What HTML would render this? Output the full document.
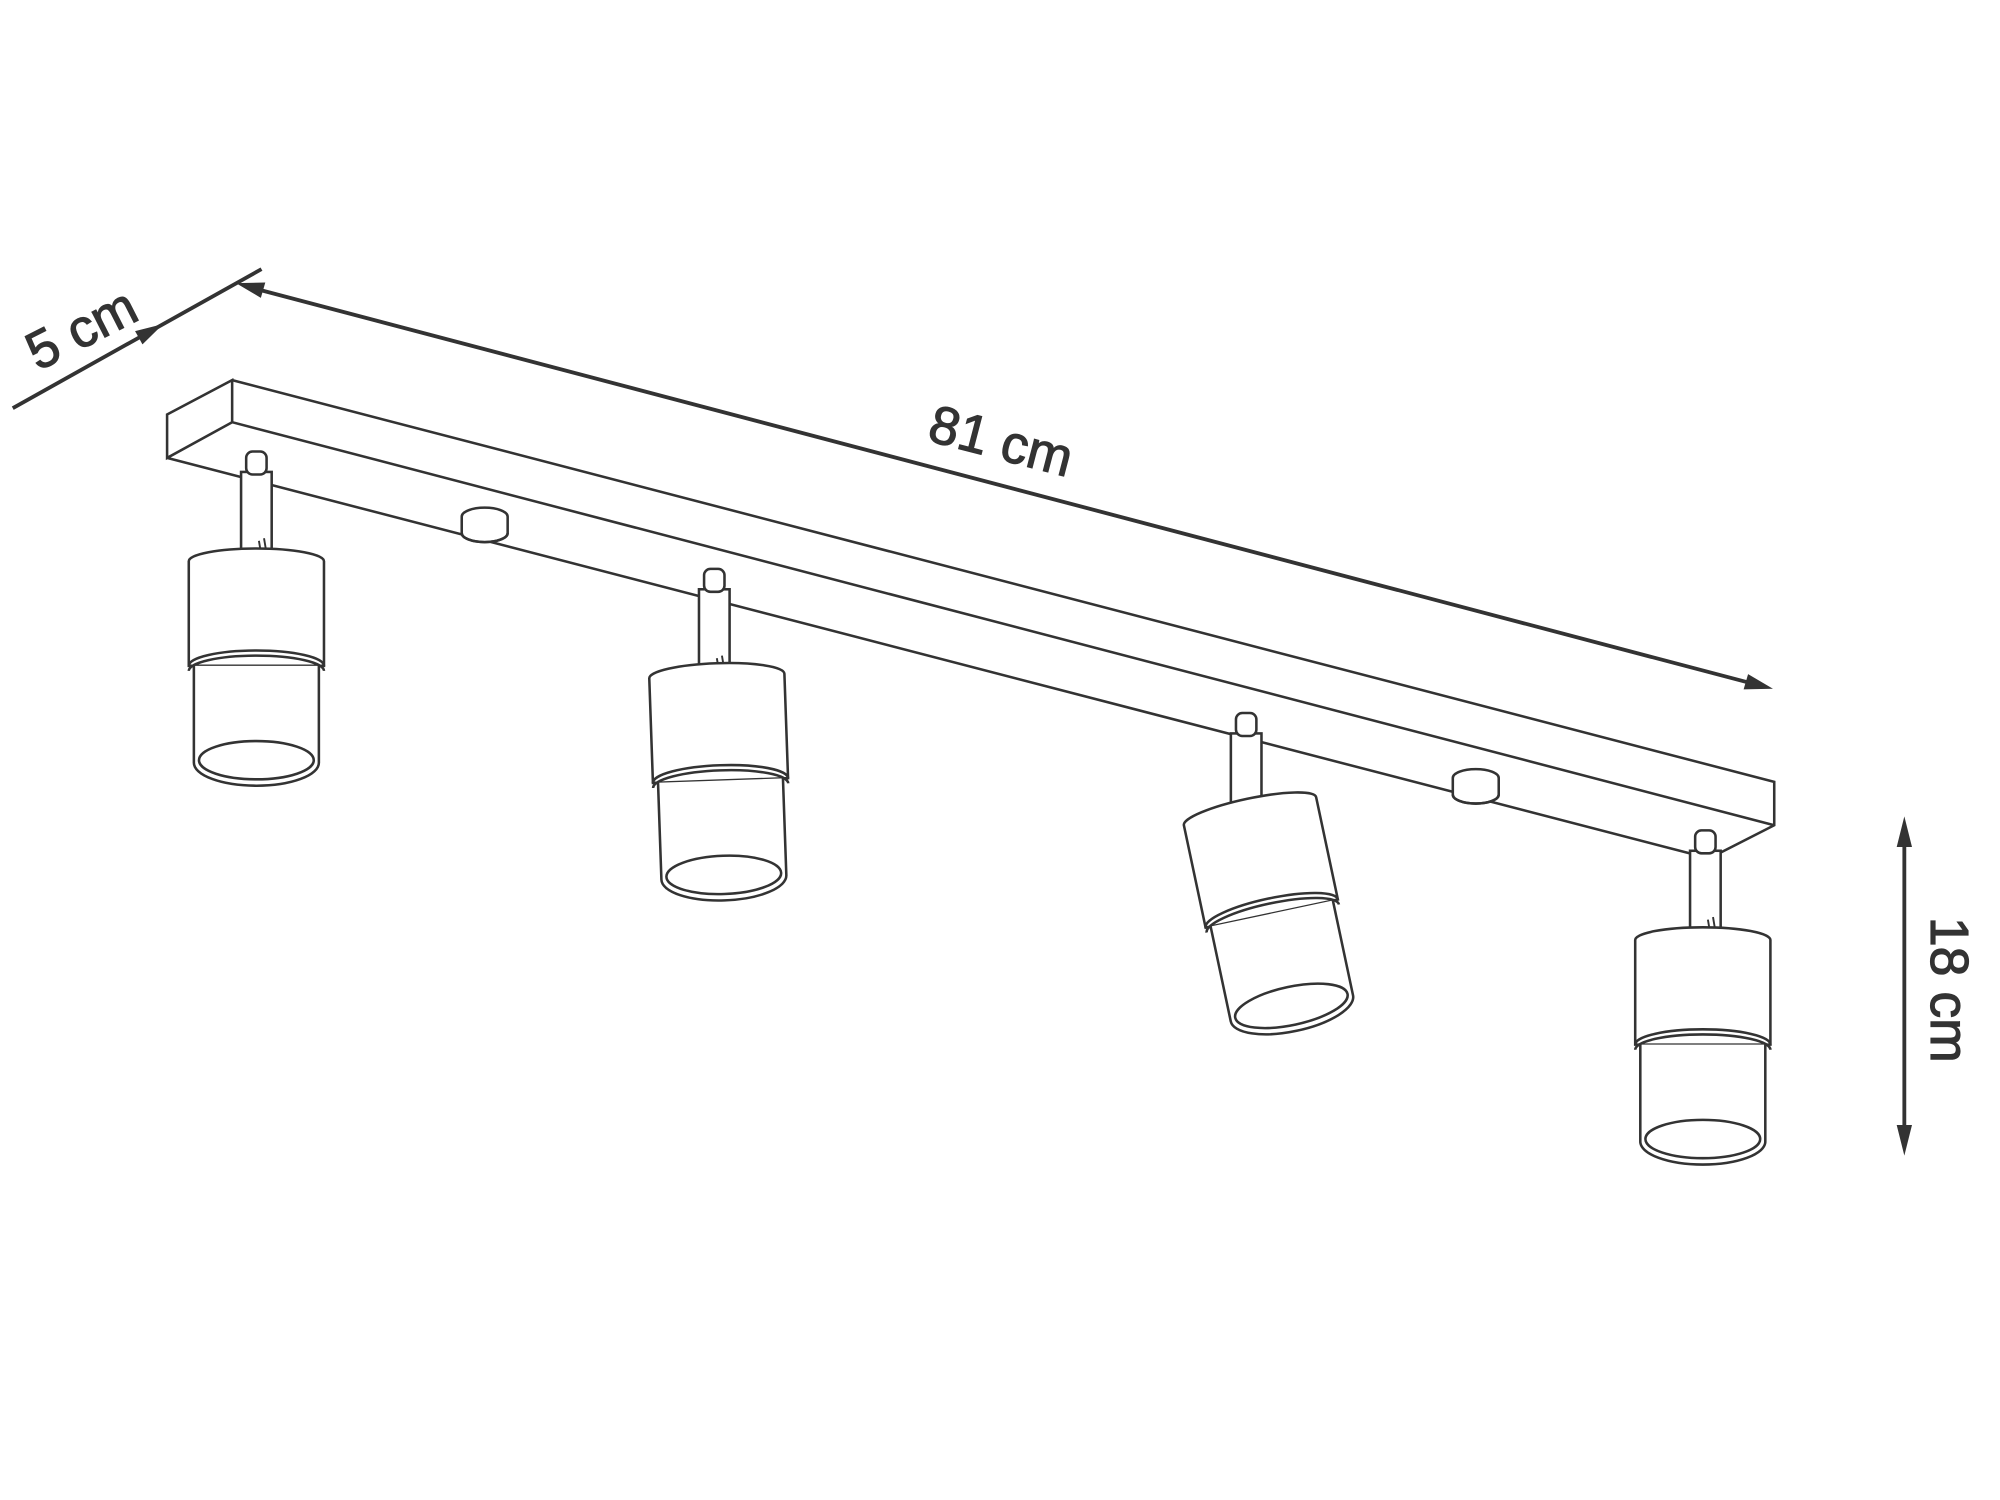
<!DOCTYPE html>
<html><head><meta charset="utf-8"><style>html,body{margin:0;padding:0;background:#fff}svg{display:block}</style></head>
<body>
<svg width="2000" height="1500" viewBox="0 0 1568 1176" xmlns="http://www.w3.org/2000/svg">
<defs>
<g id="cyl" fill="#fff" stroke="#333" stroke-width="2">
<path d="M-53,0 A53,10 0 0 1 53,0 L53,82 L-53,82 Z"/>
<path d="M-49,82 L-49,158 A49,18 0 0 0 49,158 L49,82"/>
<path d="M-53,86 A53,12 0 0 1 53,86" fill="none"/>
<path d="M-53,82 A53,12 0 0 1 53,82" fill="none"/>
<ellipse cx="0" cy="156" rx="45" ry="15" fill="none"/>
</g>
<g id="stem" fill="#fff" stroke="#333" stroke-width="2">
<rect x="-12" y="-70" width="24" height="72"/>
<rect x="-8" y="-86" width="16" height="18" rx="5"/>
<path d="M2,-16 L4,-4 M6,-18 L8,-6" fill="none" stroke-width="1.5"/>
</g>
</defs>
<g fill="none" stroke="#333" stroke-width="2">
<path d="M131,325 L182,298 L182,331 L131,359 Z"/>
<path d="M182,298 L1391,613 L1391,647 L1340,673 L131,359"/>
<path d="M182,331 L1391,647"/>
</g>
<g fill="#fff" stroke="#333" stroke-width="2">
<path d="M362,405 A18,7 0 0 1 398,405 L398,418 A18,7 0 0 1 362,418 Z"/>
<path d="M362,418 A18,7 0 0 0 398,418" fill="none"/>
<path d="M1139,610 A18,7 0 0 1 1175,610 L1175,623 A18,7 0 0 1 1139,623 Z"/>
<path d="M1139,623 A18,7 0 0 0 1175,623" fill="none"/>
</g>
<use href="#stem" x="201" y="440"/>
<use href="#cyl" x="201" y="440"/>
<use href="#stem" x="560" y="532"/>
<g transform="translate(562,530) rotate(-2)"><use href="#cyl"/></g>
<use href="#stem" x="977" y="645"/>
<g transform="translate(980,636) rotate(-12)"><use href="#cyl"/></g>
<use href="#stem" x="1337" y="737"/>
<use href="#cyl" x="1335" y="737"/>
<g stroke="#333" stroke-width="3" fill="none">
<line x1="195" y1="225" x2="1378" y2="537"/>
<line x1="10" y1="320" x2="205" y2="211"/>
<line x1="1493" y1="655" x2="1493" y2="892"/>
</g>
<g fill="#333" stroke="none">
<polygon points="1390,540 1367,540.5 1370.5,528.5"/>
<polygon points="185,222 204.5,233.5 208,221.5"/>
<polygon points="128,254 111.7,270 105.9,259.6"/>
<polygon points="1493,640 1487,664 1499,664"/>
<polygon points="1493,906 1487,882 1499,882"/>
</g>
<g font-family="Liberation Sans, sans-serif" font-size="42" fill="#333" stroke="#333" stroke-width="0.9">
<text x="785" y="360" text-anchor="middle" transform="rotate(14.6 785 345)">81 cm</text>
<text x="64" y="272" text-anchor="middle" transform="rotate(-27 64 258)">5 cm</text>
<text x="1524" y="786" text-anchor="middle" transform="rotate(90 1524 776)">18 cm</text>
</g>
</svg>
</body></html>
